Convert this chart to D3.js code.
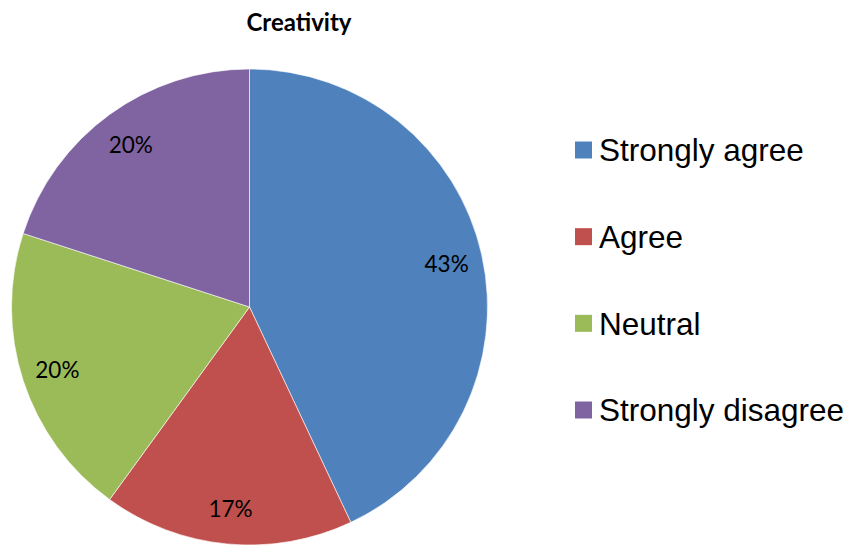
<!DOCTYPE html>
<html>
<head>
<meta charset="utf-8">
<script src="https://cdn.jsdelivr.net/npm/d3@7"></script>
<style>
  html, body { margin: 0; padding: 0; background: #fff; }
  svg { display: block; }
</style>
</head>
<body>
<svg id="chart" width="852" height="545"></svg>
<script>
// Survey responses for "Creativity"
const title = "Creativity";
const categories = ["Strongly agree", "Agree", "Neutral", "Strongly disagree"];
const values = [43, 17, 20, 20];
const colors = ["#4F81BD", "#C0504D", "#9BBB59", "#8064A2"];

const width = 852, height = 545;
const cx = 249.5, cy = 307, radius = 238;

const svg = d3.select("#chart");

svg.append("text")
  .attr("x", 299)
  .attr("y", 31)
  .attr("text-anchor", "middle")
  .attr("font-family", "Lato, 'Open Sans', sans-serif")
  .attr("font-weight", "bold")
  .attr("font-size", 24)
  .attr("fill", "#000")
  .text(title);

const data = categories.map((c, i) => ({ category: c, value: values[i] }));

const pie = d3.pie().value(d => d.value).sort(null);
const arcs = pie(data);

const color = d3.scaleOrdinal().domain(categories).range(colors);

const arc = d3.arc().innerRadius(0).outerRadius(radius);
const labelArc = d3.arc().innerRadius(202).outerRadius(202);

const g = svg.append("g").attr("transform", `translate(${cx},${cy})`);

g.selectAll("path.slice")
  .data(arcs)
  .join("path")
  .attr("class", "slice")
  .attr("d", arc)
  .attr("fill", d => color(d.data.category))
  .attr("stroke", "#ffffff")
  .attr("stroke-width", 0.6);

const total = d3.sum(values);
g.selectAll("text.pct")
  .data(arcs)
  .join("text")
  .attr("class", "pct")
  .attr("transform", d => `translate(${labelArc.centroid(d)})`)
  .attr("text-anchor", "middle")
  .attr("dy", "0.4em")
  .attr("font-family", "Lato, 'Open Sans', sans-serif")
  .attr("font-size", 22.5)
  .attr("fill", "#000")
  .text(d => Math.round(d.data.value / total * 100) + "%");

// Legend
const legendY = d3.scalePoint().domain(categories).range([150, 410]);
const legend = svg.append("g");
const item = legend.selectAll("g.item")
  .data(categories)
  .join("g")
  .attr("class", "item")
  .attr("transform", d => `translate(575,${legendY(d)})`);

item.append("rect")
  .attr("x", 0)
  .attr("y", -8.5)
  .attr("width", 17)
  .attr("height", 17)
  .attr("fill", d => color(d));

item.append("text")
  .attr("x", 24)
  .attr("y", 0)
  .attr("dy", "0.36em")
  .attr("font-family", "'Liberation Sans', Arial, sans-serif")
  .attr("font-size", 31.5)
  .attr("fill", "#000")
  .text(d => d);
</script>
</body>
</html>
